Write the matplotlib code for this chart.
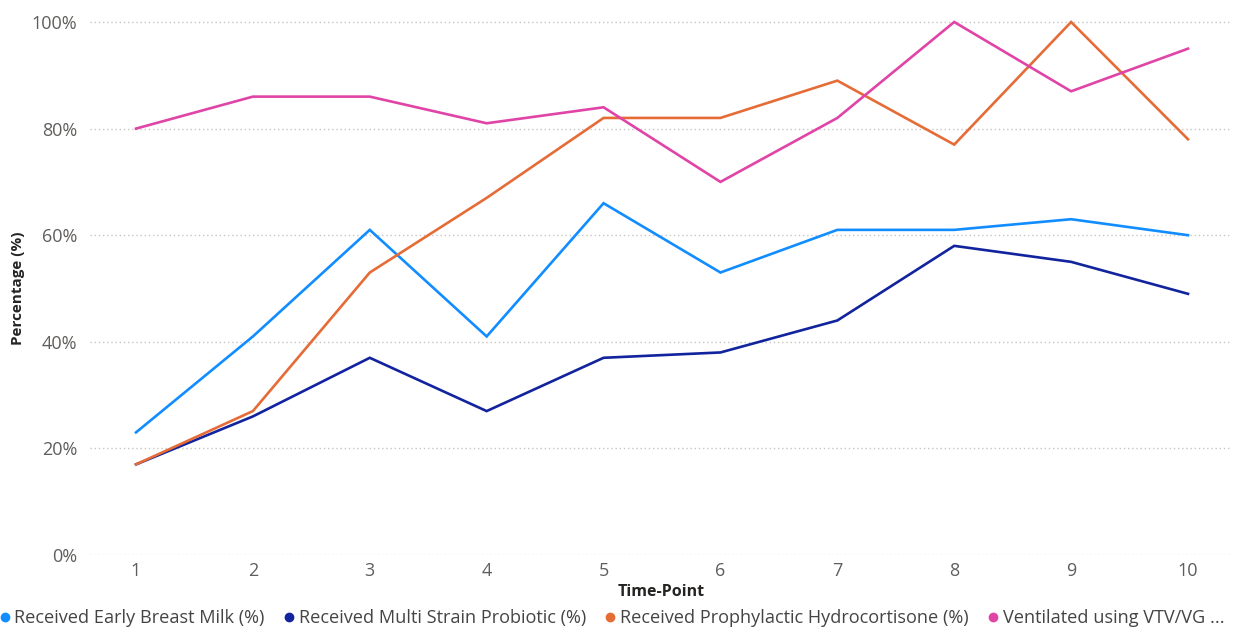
import matplotlib
matplotlib.use("Agg")
import matplotlib.pyplot as plt
from matplotlib.lines import Line2D

time_points = [1, 2, 3, 4, 5, 6, 7, 8, 9, 10]
early_breast_milk = [23, 41, 61, 41, 66, 53, 61, 61, 63, 60]
multi_strain_probiotic = [17, 26, 37, 27, 37, 38, 44, 58, 55, 49]
prophylactic_hydrocortisone = [17, 27, 53, 67, 82, 82, 89, 77, 100, 78]
ventilated_vtv_vg = [80, 86, 86, 81, 84, 70, 82, 100, 87, 95]

series_labels = [
    "Received Early Breast Milk (%)",
    "Received Multi Strain Probiotic (%)",
    "Received Prophylactic Hydrocortisone (%)",
    "Ventilated using VTV/VG ...",
]
series_values = [early_breast_milk, multi_strain_probiotic,
                 prophylactic_hydrocortisone, ventilated_vtv_vg]
colors = ["#118DFF", "#12239E", "#E66C37", "#E044A7"]
y_ticks = [0, 20, 40, 60, 80, 100]
y_tick_labels = ["0%", "20%", "40%", "60%", "80%", "100%"]

plt.rcParams['font.family'] = ['Open Sans', 'DejaVu Sans']

W, H = 1233, 628
fig = plt.figure(figsize=(W / 100, H / 100), dpi=100)
left_px, right_px, top_px, bottom_px = 90, 1230, 14, 555
ax = fig.add_axes([left_px / W, 1 - bottom_px / H,
                   (right_px - left_px) / W, (bottom_px - top_px) / H])

for vals, c in zip(series_values, colors):
    ax.plot(time_points, vals, color=c, linewidth=1.9, solid_joinstyle='miter')

step = (1188 - 136) / 9.0
ax.set_xlim(1 - (136 - left_px) / step, 10 + (right_px - 1188) / step)
ax.set_ylim(0, (bottom_px - top_px) / 5.33)

ax.set_yticks(y_ticks)
ax.set_yticklabels(y_tick_labels)
ax.set_xticks(time_points)
ax.set_xticklabels([str(t) for t in time_points])
ax.tick_params(axis='both', length=0, labelsize=13, labelcolor='#605E5C')
ax.tick_params(axis='y', pad=9)
ax.tick_params(axis='x', pad=5)

ax.grid(axis='y', color='#C8C6C4', linestyle=(0, (1, 2)), linewidth=1.0)
ax.set_axisbelow(True)
for s in ax.spines.values():
    s.set_visible(False)

fig.text(661 / W, 1 - 592 / H, "Time-Point", ha='center', va='center',
         fontsize=11.5, fontweight='bold', color='#252423')
fig.text(18 / W, 1 - 288 / H, "Percentage (%)", ha='center', va='center',
         rotation=90, fontsize=11, fontweight='bold', color='#252423')

handles = [Line2D([], [], marker='o', linestyle='', color=c, markersize=6)
           for c in colors]
leg = fig.legend(handles, series_labels, loc='center left',
                 bbox_to_anchor=(-0.002, 1 - 618 / H), ncol=4, frameon=False,
                 fontsize=13.1, handletextpad=0.12, columnspacing=0.95,
                 handlelength=0.8, borderaxespad=0.0, borderpad=0.0)
for t in leg.get_texts():
    t.set_color('#444444')

fig.savefig("out.png", dpi=100, facecolor='white')
